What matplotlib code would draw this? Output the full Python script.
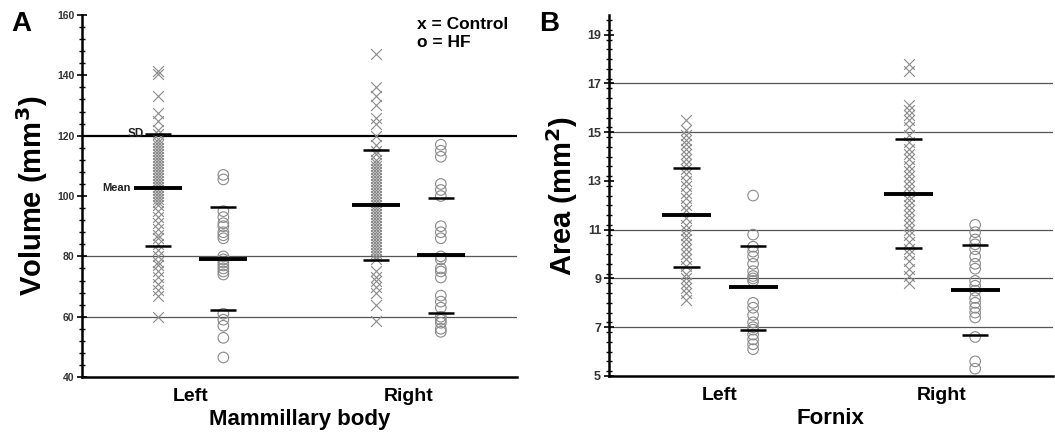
import matplotlib
matplotlib.use("Agg")
import matplotlib.pyplot as plt
from matplotlib.ticker import MultipleLocator

plt.rcParams['font.family'] = ['Liberation Sans', 'DejaVu Sans']

# ---------------- data ----------------
sides = ["Left", "Right"]

# Panel A: Mammillary body volume (mm3)
mb_left_control = [141.5, 140.5, 133, 127.5, 125, 122, 120.5, 119, 118, 117, 116, 115, 114,
                   113, 112, 111, 110, 109, 108, 107, 106, 105, 104, 103, 102, 101, 100, 99,
                   98, 97, 95, 93, 91, 89, 87, 86, 84, 82, 80, 78, 77, 75, 73, 71, 69, 67, 60]
mb_left_hf = [107, 105.5, 95, 93, 91, 90, 88, 87, 86, 80, 79, 78, 77, 76, 75, 74, 61, 59, 57, 53, 46.5]
mb_right_control = [147, 136, 133, 130, 126, 124, 120, 117, 115, 114, 112, 111, 110, 109, 108,
                    107, 106, 105, 104, 103, 102, 101, 100, 99, 98, 97, 96, 95, 94, 93, 92, 91,
                    90, 89, 88, 87, 86, 85, 84, 83, 82, 81, 80, 79, 75, 73, 72, 70, 68, 64, 58.5]
mb_right_hf = [117, 115, 113, 104, 102, 100, 90, 88, 86, 80, 79, 76, 75, 73, 67, 65, 63, 60,
               59, 58, 56, 55]
mb_mean_control = [102.8, 96.9]
mb_sd_hi_control = [120.5, 115.2]
mb_sd_lo_control = [83.3, 78.8]
mb_mean_hf = [79.1, 80.3]
mb_sd_hi_hf = [96.3, 99.2]
mb_sd_lo_hf = [62.2, 61.2]
mb_reflines = [120, 80, 60]
mb_yticks = [40, 60, 80, 100, 120, 140, 160]

# Panel B: Fornix area (mm2)
fx_left_control = [15.5, 15.1, 14.9, 14.7, 14.5, 14.3, 14.1, 13.9, 13.7, 13.5, 13.3, 13.0, 12.8,
                   12.5, 12.3, 12.0, 11.8, 11.5, 11.2, 11.0, 10.8, 10.6, 10.4, 10.2, 10.0, 9.8,
                   9.5, 9.2, 9.0, 8.8, 8.6, 8.4, 8.1]
fx_left_hf = [12.4, 10.8, 10.3, 10.1, 9.9, 9.6, 9.3, 9.1, 9.0, 8.9, 8.0, 7.8, 7.5, 7.2, 7.0,
              6.9, 6.7, 6.5, 6.3, 6.1]
fx_right_control = [17.8, 17.5, 16.1, 15.9, 15.7, 15.5, 15.2, 14.9, 14.6, 14.3, 14.1, 13.9,
                    13.6, 13.4, 13.2, 13.0, 12.8, 12.6, 12.4, 12.2, 12.0, 11.8, 11.6, 11.4,
                    11.2, 11.0, 10.8, 10.5, 10.2, 10.0, 9.7, 9.4, 9.1, 8.8]
fx_right_hf = [11.2, 10.9, 10.6, 10.4, 10.2, 9.9, 9.6, 9.4, 8.9, 8.7, 8.5, 8.2, 8.0, 7.8, 7.6,
               7.4, 6.6, 5.6, 5.3]
fx_mean_control = [11.62, 12.45]
fx_sd_hi_control = [13.55, 14.73]
fx_sd_lo_control = [9.49, 10.24]
fx_mean_hf = [8.63, 8.52]
fx_sd_hi_hf = [10.33, 10.39]
fx_sd_lo_hf = [6.88, 6.70]
fx_reflines = [17, 15, 11, 9, 7]
fx_yticks = [5, 7, 9, 11, 13, 15, 17, 19]

# ---------------- drawing ----------------
fig = plt.figure(figsize=(10.55, 4.4), dpi=100)
axA = fig.add_axes([0.0777, 0.143, 0.4123, 0.823])
axB = fig.add_axes([0.577, 0.1455, 0.421, 0.82])

cat_pos = [1, 3]
off = 0.3
mean_hw = 0.22
sd_hw = 0.12
mcol = '#8a8a8a'


def draw_panel(ax, ctrl, hf, mean_c, hi_c, lo_c, mean_h, hi_h, lo_h, reflines, ylim,
               yticks, minor, ylabel, xlabel, first_thick, ytick_size):
    for i, r in enumerate(reflines):
        if first_thick and i == 0:
            ax.axhline(r, color='black', lw=1.6, zorder=1)
        else:
            ax.axhline(r, color='#555555', lw=0.9, zorder=1)
    for k, c in enumerate(cat_pos):
        xc, xh = c - off, c + off
        ax.scatter([xc] * len(ctrl[k]), ctrl[k], marker='x', s=60, c=mcol,
                   linewidths=0.8, zorder=2)
        ax.scatter([xh] * len(hf[k]), hf[k], marker='o', s=58, facecolors='none',
                   edgecolors=mcol, linewidths=0.8, zorder=2)
        ax.hlines(mean_c[k], xc - mean_hw, xc + mean_hw, color='black', lw=2.8, zorder=3)
        ax.hlines([hi_c[k], lo_c[k]], xc - sd_hw, xc + sd_hw, color='black', lw=1.8, zorder=3)
        ax.hlines(mean_h[k], xh - mean_hw, xh + mean_hw, color='black', lw=2.8, zorder=3)
        ax.hlines([hi_h[k], lo_h[k]], xh - sd_hw, xh + sd_hw, color='black', lw=1.8, zorder=3)
    ax.set_xlim(0, 4)
    ax.set_ylim(*ylim)
    ax.set_yticks(yticks)
    ax.yaxis.set_minor_locator(MultipleLocator(minor))
    ax.set_xticks(cat_pos)
    ax.set_xticklabels(sides, fontsize=14, fontweight='bold')
    ax.tick_params(axis='x', length=0, pad=8)
    ax.tick_params(axis='y', which='major', direction='inout', length=7, width=1.2,
                   labelsize=ytick_size, pad=2)
    ax.tick_params(axis='y', which='minor', direction='inout', length=4, width=1.0)
    for lab in ax.get_yticklabels():
        lab.set_fontweight('bold')
        lab.set_color('#333333')
    for s in ['top', 'right']:
        ax.spines[s].set_visible(False)
    for s in ['left', 'bottom']:
        ax.spines[s].set_linewidth(1.8)
    ax.set_ylabel(ylabel, fontsize=21, fontweight='bold', labelpad=5)
    ax.set_xlabel(xlabel, fontsize=16, fontweight='bold', labelpad=3)


draw_panel(axA, [mb_left_control, mb_right_control], [mb_left_hf, mb_right_hf],
           mb_mean_control, mb_sd_hi_control, mb_sd_lo_control,
           mb_mean_hf, mb_sd_hi_hf, mb_sd_lo_hf, mb_reflines, (40, 160), mb_yticks, 4,
           r'Volume (mm$^{\mathbf{3}}$)', 'Mammillary body', True, 7.5)
draw_panel(axB, [fx_left_control, fx_right_control], [fx_left_hf, fx_right_hf],
           fx_mean_control, fx_sd_hi_control, fx_sd_lo_control,
           fx_mean_hf, fx_sd_hi_hf, fx_sd_lo_hf, fx_reflines, (5, 19.8), fx_yticks, 0.4,
           r'Area (mm$^{\mathbf{2}}$)', 'Fornix', False, 9)

# annotations in panel A
axA.text(0.45, mb_mean_control[0], 'Mean', ha='right', va='center', fontsize=8,
         fontweight='bold', color='#222222')
axA.text(0.57, mb_sd_hi_control[0], 'SD', ha='right', va='center', fontsize=8.5,
         fontweight='bold', color='#222222')
axA.text(0.77, 0.995, 'x = Control', transform=axA.transAxes, ha='left', va='top',
         fontsize=12.5, fontweight='bold')
axA.text(0.77, 0.945, 'o = HF', transform=axA.transAxes, ha='left', va='top',
         fontsize=12.5, fontweight='bold')

fig.text(0.011, 0.975, 'A', ha='left', va='top', fontsize=20, fontweight='bold')
fig.text(0.511, 0.975, 'B', ha='left', va='top', fontsize=20, fontweight='bold')

fig.savefig('out.png', dpi=100)
